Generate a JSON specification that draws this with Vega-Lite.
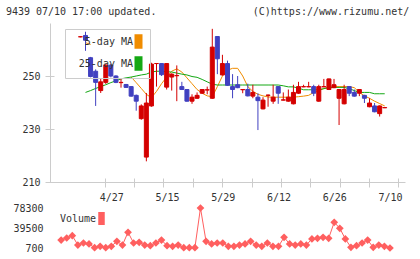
{
  "$schema": "https://vega.github.io/schema/vega-lite/v6.json",
  "background": "white",
  "padding": {"left": 5, "top": 7, "right": 5, "bottom": 2},
  "config": {
    "view": {"stroke": null},
    "font": "DejaVu Sans Mono",
    "axis": {"grid": false, "domainColor": "#cccccc", "tickColor": "#cccccc", "labelColor": "#333333", "labelFont": "DejaVu Sans Mono", "labelFontSize": 10, "title": null}
  },
  "title": {"text": "9439 07/10 17:00 updated.\u00a0\u00a0\u00a0\u00a0\u00a0\u00a0\u00a0\u00a0\u00a0\u00a0\u00a0\u00a0\u00a0\u00a0\u00a0\u00a0(C)https://www.rizumu.net/", "anchor": "start", "font": "DejaVu Sans Mono", "fontSize": 10, "fontWeight": "normal", "color": "#333333", "dx": -7, "offset": 6},
  "datasets": {
    "px": [
      {"i": 1, "date": "4/13", "open": 264.8, "high": 265.0, "low": 264.6, "close": 264.8, "ma5": null, "ma25": null, "vol": null},
      {"i": 2, "date": "4/14", "open": 265.3, "high": 266.7, "low": 259.5, "close": 263.5, "ma5": 262.6, "ma25": 243.8, "vol": 16200},
      {"i": 3, "date": "4/15", "open": 256.9, "high": 257.2, "low": 249.5, "close": 249.8, "ma5": 261.9, "ma25": 244.5, "vol": 20100},
      {"i": 4, "date": "4/16", "open": 251.8, "high": 252.5, "low": 238.7, "close": 247.6, "ma5": null, "ma25": 245.3, "vol": 24600},
      {"i": 5, "date": "4/17", "open": 244.5, "high": 249.0, "low": 243.6, "close": 247.8, "ma5": null, "ma25": 246.0, "vol": 6500},
      {"i": 6, "date": "4/20", "open": 247.6, "high": 254.5, "low": 247.0, "close": 254.1, "ma5": null, "ma25": 246.7, "vol": 10400},
      {"i": 7, "date": "4/21", "open": 254.1, "high": 254.5, "low": 249.5, "close": 250.0, "ma5": null, "ma25": 247.5, "vol": 8500},
      {"i": 8, "date": "4/22", "open": 250.0, "high": 250.3, "low": 247.3, "close": 247.6, "ma5": null, "ma25": 248.2, "vol": 1300},
      {"i": 9, "date": "4/23", "open": 247.5, "high": 249.0, "low": 245.6, "close": 247.6, "ma5": null, "ma25": 248.9, "vol": 4000},
      {"i": 10, "date": "4/24", "open": 246.8, "high": 247.0, "low": 245.5, "close": 245.7, "ma5": null, "ma25": 249.3, "vol": 1300},
      {"i": 11, "date": "4/27", "open": 246.0, "high": 246.2, "low": 242.2, "close": 242.4, "ma5": 249.6, "ma25": 249.6, "vol": 4000},
      {"i": 12, "date": "4/28", "open": 242.7, "high": 243.0, "low": 236.9, "close": 240.5, "ma5": 247.5, "ma25": 250.0, "vol": 13700},
      {"i": 13, "date": "4/30", "open": 233.9, "high": 239.3, "low": 233.5, "close": 238.7, "ma5": 245.3, "ma25": 250.4, "vol": 6500},
      {"i": 14, "date": "5/1", "open": 219.4, "high": 243.6, "low": 217.8, "close": 239.8, "ma5": 243.1, "ma25": 250.7, "vol": 31200},
      {"i": 15, "date": "5/7", "open": 238.7, "high": 255.0, "low": 238.4, "close": 254.5, "ma5": 241.8, "ma25": 251.5, "vol": 10400},
      {"i": 16, "date": "5/8", "open": 254.7, "high": 254.8, "low": 246.0, "close": 254.7, "ma5": 244.2, "ma25": 251.8, "vol": 11700},
      {"i": 17, "date": "5/11", "open": 254.7, "high": 254.8, "low": 250.0, "close": 250.5, "ma5": 247.1, "ma25": 251.8, "vol": 6500},
      {"i": 18, "date": "5/12", "open": 245.8, "high": 254.8, "low": 244.9, "close": 254.7, "ma5": 249.6, "ma25": 251.6, "vol": 5200},
      {"i": 19, "date": "5/13", "open": 249.6, "high": 251.0, "low": 244.5, "close": 250.7, "ma5": 251.8, "ma25": 251.5, "vol": 10400},
      {"i": 20, "date": "5/14", "open": 250.1, "high": 254.0, "low": 240.5, "close": 250.2, "ma5": 252.7, "ma25": 251.1, "vol": 16200},
      {"i": 21, "date": "5/15", "open": 246.0, "high": 247.8, "low": 244.7, "close": 244.9, "ma5": 251.5, "ma25": 250.7, "vol": 5200},
      {"i": 22, "date": "5/18", "open": 244.9, "high": 245.0, "low": 240.3, "close": 240.5, "ma5": 249.3, "ma25": 250.4, "vol": 4000},
      {"i": 23, "date": "5/19", "open": 240.5, "high": 243.1, "low": 239.5, "close": 242.0, "ma5": 247.1, "ma25": 249.8, "vol": 6500},
      {"i": 24, "date": "5/20", "open": 241.6, "high": 243.8, "low": 241.4, "close": 242.7, "ma5": 244.9, "ma25": 249.5, "vol": 1300},
      {"i": 25, "date": "5/21", "open": 243.5, "high": 245.0, "low": 243.3, "close": 244.9, "ma5": 243.5, "ma25": 248.7, "vol": 1300},
      {"i": 26, "date": "5/22", "open": 244.7, "high": 246.0, "low": 243.1, "close": 244.8, "ma5": 242.5, "ma25": 247.8, "vol": 1300},
      {"i": 27, "date": "5/25", "open": 241.6, "high": 267.8, "low": 241.4, "close": 260.9, "ma5": 242.2, "ma25": 246.9, "vol": 78300},
      {"i": 28, "date": "5/26", "open": 264.9, "high": 265.0, "low": 250.7, "close": 256.5, "ma5": 246.0, "ma25": 246.6, "vol": 13700},
      {"i": 29, "date": "5/27", "open": 250.4, "high": 258.0, "low": 250.2, "close": 254.7, "ma5": 250.0, "ma25": 246.6, "vol": 8500},
      {"i": 30, "date": "5/28", "open": 254.7, "high": 255.8, "low": 246.3, "close": 246.5, "ma5": 252.2, "ma25": 246.6, "vol": 10400},
      {"i": 31, "date": "5/29", "open": 246.0, "high": 250.7, "low": 241.6, "close": 244.9, "ma5": 252.9, "ma25": 246.6, "vol": 10400},
      {"i": 32, "date": "6/1", "open": 246.7, "high": 250.0, "low": 245.4, "close": 245.6, "ma5": 252.9, "ma25": 246.6, "vol": 4000},
      {"i": 33, "date": "6/2", "open": 244.8, "high": 245.0, "low": 243.5, "close": 244.9, "ma5": 250.0, "ma25": 246.6, "vol": 4000},
      {"i": 34, "date": "6/3", "open": 244.9, "high": 247.1, "low": 242.3, "close": 242.5, "ma5": 246.0, "ma25": 246.6, "vol": 6500},
      {"i": 35, "date": "6/4", "open": 242.4, "high": 246.7, "low": 241.6, "close": 243.8, "ma5": 244.2, "ma25": 246.6, "vol": 8500},
      {"i": 36, "date": "6/5", "open": 242.0, "high": 243.5, "low": 229.6, "close": 240.7, "ma5": 243.1, "ma25": 246.6, "vol": 13700},
      {"i": 37, "date": "6/8", "open": 237.6, "high": 242.0, "low": 237.4, "close": 240.9, "ma5": 242.5, "ma25": 246.6, "vol": 6500},
      {"i": 38, "date": "6/9", "open": 242.7, "high": 243.0, "low": 238.4, "close": 242.8, "ma5": 242.1, "ma25": 246.6, "vol": 4000},
      {"i": 39, "date": "6/10", "open": 240.5, "high": 246.7, "low": 239.5, "close": 242.0, "ma5": 242.0, "ma25": 246.6, "vol": 10400},
      {"i": 40, "date": "6/11", "open": 246.0, "high": 246.2, "low": 239.5, "close": 243.5, "ma5": 242.0, "ma25": 246.6, "vol": 4000},
      {"i": 41, "date": "6/12", "open": 240.9, "high": 243.8, "low": 240.8, "close": 241.0, "ma5": 242.0, "ma25": 246.3, "vol": 4000},
      {"i": 42, "date": "6/15", "open": 240.5, "high": 244.9, "low": 240.3, "close": 242.0, "ma5": 242.0, "ma25": 245.9, "vol": 21400},
      {"i": 43, "date": "6/16", "open": 239.5, "high": 246.7, "low": 239.3, "close": 243.8, "ma5": 242.0, "ma25": 245.9, "vol": 8500},
      {"i": 44, "date": "6/17", "open": 243.5, "high": 247.8, "low": 243.3, "close": 246.0, "ma5": 242.2, "ma25": 245.4, "vol": 6500},
      {"i": 45, "date": "6/18", "open": 245.9, "high": 246.7, "low": 245.8, "close": 246.0, "ma5": 242.4, "ma25": 244.8, "vol": 8500},
      {"i": 46, "date": "6/19", "open": 245.9, "high": 247.8, "low": 245.8, "close": 246.0, "ma5": 242.7, "ma25": 244.8, "vol": 6500},
      {"i": 47, "date": "6/22", "open": 246.0, "high": 246.7, "low": 242.4, "close": 243.5, "ma5": 243.8, "ma25": 244.8, "vol": 18200},
      {"i": 48, "date": "6/23", "open": 240.5, "high": 246.7, "low": 240.3, "close": 246.0, "ma5": 244.5, "ma25": 244.8, "vol": 19500},
      {"i": 49, "date": "6/24", "open": 245.9, "high": 248.9, "low": 245.8, "close": 246.0, "ma5": 245.3, "ma25": 245.2, "vol": 21400},
      {"i": 50, "date": "6/25", "open": 244.9, "high": 249.0, "low": 244.7, "close": 248.9, "ma5": 245.6, "ma25": 245.7, "vol": 19500},
      {"i": 51, "date": "6/26", "open": 245.6, "high": 248.9, "low": 245.4, "close": 246.7, "ma5": 246.0, "ma25": 245.7, "vol": 50600},
      {"i": 52, "date": "6/29", "open": 241.6, "high": 245.0, "low": 231.5, "close": 244.9, "ma5": 246.0, "ma25": 245.7, "vol": 38900},
      {"i": 53, "date": "6/30", "open": 239.5, "high": 246.7, "low": 239.3, "close": 244.9, "ma5": 246.0, "ma25": 245.7, "vol": 18200},
      {"i": 54, "date": "7/1", "open": 246.0, "high": 246.2, "low": 242.4, "close": 243.5, "ma5": 246.0, "ma25": 245.2, "vol": 2000},
      {"i": 55, "date": "7/2", "open": 243.8, "high": 244.9, "low": 242.2, "close": 242.4, "ma5": 245.6, "ma25": 244.5, "vol": 5200},
      {"i": 56, "date": "7/3", "open": 243.5, "high": 245.0, "low": 242.4, "close": 244.9, "ma5": 243.8, "ma25": 243.8, "vol": 10400},
      {"i": 57, "date": "7/6", "open": 242.7, "high": 242.9, "low": 239.8, "close": 241.6, "ma5": 242.5, "ma25": 243.8, "vol": 16200},
      {"i": 58, "date": "7/7", "open": 238.4, "high": 241.6, "low": 238.2, "close": 239.8, "ma5": 241.6, "ma25": 243.8, "vol": 2000},
      {"i": 59, "date": "7/8", "open": 238.7, "high": 239.8, "low": 236.3, "close": 236.5, "ma5": 240.5, "ma25": 243.3, "vol": 6500},
      {"i": 60, "date": "7/9", "open": 235.8, "high": 238.9, "low": 234.7, "close": 238.7, "ma5": 239.6, "ma25": 243.3, "vol": 4000},
      {"i": 61, "date": "7/10", "open": 238.0, "high": 238.1, "low": 237.9, "close": 238.1, "ma5": 238.7, "ma25": 243.3, "vol": 700}
    ]
  },
  "vconcat": [
    {
      "width": 355,
      "height": 159,
      "data": {"name": "px"},
      "resolve": {"axis": {"x": "independent", "y": "independent"}},
      "layer": [
        {
          "transform": [{"fold": ["ma5", "ma25"], "as": ["series", "value"]}],
          "mark": {"type": "line", "strokeWidth": 1},
          "encoding": {
            "x": {"field": "i", "type": "quantitative", "scale": {"domain": [0, 63.7]},
              "axis": {"orient": "bottom", "values": [5.79, 11.58, 17.37, 23.16, 28.95, 34.75, 40.54, 46.33, 52.12, 57.91, 63.7], "labels": false, "ticks": false}},
            "y": {"field": "value", "type": "quantitative", "scale": {"domain": [210, 267.8], "zero": false},
              "axis": {"orient": "left", "values": [210, 230, 250], "ticks": false, "labelPadding": 10}},
            "color": {"field": "series", "type": "nominal",
              "scale": {"domain": ["ma5", "ma25"], "range": ["#f08c00", "#14a814"]},
              "legend": {
                "orient": "none", "legendX": 15, "legendY": 6, "title": null,
                "labelExpr": "datum.value == 'ma5' ? '5-day MA' : '25-day MA'",
                "labelFont": "DejaVu Sans Mono", "labelFontSize": 10, "labelColor": "#333333",
                "labelAlign": "right", "labelOffset": -13, "symbolOffset": 61,
                "symbolType": "M-0.5,-1H0.5V1H-0.5Z", "symbolSize": 169,
                "strokeColor": "#cccccc", "padding": 5, "rowPadding": 3,
                "encode": {"symbols": {"update": {
                  "fill": {"signal": "datum.value == 'ma5' ? '#f08c00' : '#14a814'"},
                  "stroke": {"value": "#444444"}, "strokeWidth": {"value": 1.5}, "opacity": {"value": 1}}}}
              }}
          }
        },
        {
          "mark": {"type": "rule", "strokeWidth": 1},
          "encoding": {
            "x": {"field": "i", "type": "quantitative",
              "axis": {"orient": "bottom", "values": [5.79, 11.58, 17.37, 23.16, 28.95, 34.75, 40.54, 46.33, 52.12, 57.91, 63.7], "labels": false, "domain": false, "tickSize": 9, "offset": -4}},
            "y": {"field": "low", "type": "quantitative",
              "axis": {"orient": "left", "values": [210, 230, 250], "labels": false, "domain": false, "tickSize": 9, "offset": -4}},
            "y2": {"field": "high"},
            "color": {"condition": {"test": "datum.close >= datum.open", "value": "#d40000"}, "value": "#4040c0"}
          }
        },
        {
          "mark": {"type": "bar", "size": 4, "strokeWidth": 1},
          "encoding": {
            "x": {"field": "i", "type": "quantitative", "axis": null},
            "y": {"field": "open", "type": "quantitative", "axis": null},
            "y2": {"field": "close"},
            "fill": {"condition": {"test": "datum.close >= datum.open", "value": "#d40000"}, "value": "#4040c0"},
            "stroke": {"condition": {"test": "datum.close >= datum.open", "value": "#d40000"}, "value": "#4040c0"}
          }
        }
      ]
    },
    {
      "width": 355,
      "height": 40,
      "data": {"name": "px"},
      "encoding": {
        "x": {"field": "i", "type": "quantitative", "scale": {"domain": [0, 63.7]},
          "axis": {"orient": "top", "values": [11, 21, 31, 41, 51, 61], "ticks": false, "domain": false, "labelPadding": 6, "labelFlush": false,
            "labelExpr": "datum.value == 11 ? '4/27' : datum.value == 21 ? '5/15' : datum.value == 31 ? '5/29' : datum.value == 41 ? '6/12' : datum.value == 51 ? '6/26' : '7/10'"}},
        "y": {"field": "vol", "type": "quantitative", "scale": {"domain": [700, 78300]},
          "axis": {"values": [700, 39500, 78300], "format": "d", "ticks": false, "domain": false, "labelPadding": 7}}
      },
      "layer": [
        {"mark": {"type": "line", "color": "#ff5f5f", "strokeWidth": 1}},
        {
          "mark": {"type": "point", "shape": "diamond", "filled": true, "size": 60, "opacity": 1},
          "encoding": {
            "color": {"datum": "Volume", "scale": {"range": ["#ff5f5f"]},
              "legend": {
                "orient": "none", "legendX": -2, "legendY": 3, "title": null,
                "labelFont": "DejaVu Sans Mono", "labelFontSize": 10, "labelColor": "#333333",
                "labelAlign": "right", "labelOffset": -13, "symbolOffset": 46,
                "symbolType": "M-0.5,-1H0.5V1H-0.5Z", "symbolSize": 169, "padding": 0,
                "encode": {"symbols": {"update": {"fill": {"value": "#ff5f5f"}, "stroke": {"value": "#444444"}, "strokeWidth": {"value": 1.5}, "opacity": {"value": 1}}}}
              }}
          }
        }
      ]
    }
  ],
  "spacing": 4,
  "resolve": {"scale": {"color": "independent"}, "legend": {"color": "independent"}}
}
